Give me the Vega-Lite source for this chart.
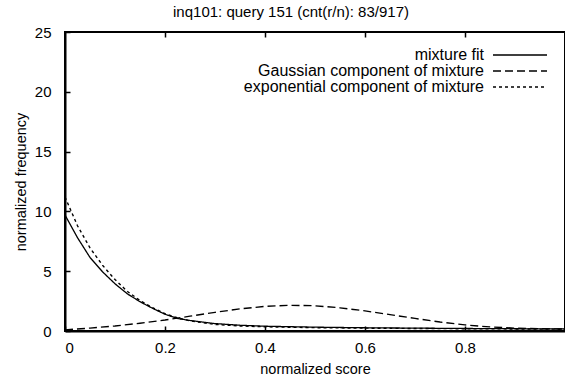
{
  "$schema": "https://vega.github.io/schema/vega-lite/v6.json",
  "autosize": "none",
  "width": 500,
  "height": 299,
  "padding": {"left": 65, "top": 32, "right": 0, "bottom": 51},
  "background": "white",
  "config": {
    "font": "Liberation Sans",
    "view": {"stroke": "black", "strokeWidth": 2},
    "axis": {"grid": false, "domainColor": "black", "domainWidth": 2, "tickColor": "black", "tickSize": -5, "tickWidth": 1.5, "labelColor": "black", "titleColor": "black", "labelFontSize": 15, "titleFontSize": 14.5, "titleFontWeight": "normal", "labelFont": "Liberation Sans", "titleFont": "Liberation Sans"}
  },
  "title": {"text": "inq101: query 151 (cnt(r/n): 83/917)", "fontSize": 15, "fontWeight": "normal", "font": "Liberation Sans", "color": "black", "anchor": "middle", "dx": -24, "offset": 5},
  "data": {"values": [
    {"x": 0, "y": 9.7, "s": "mixture fit"},
    {"x": 0.025, "y": 7.8, "s": "mixture fit"},
    {"x": 0.05, "y": 6.15, "s": "mixture fit"},
    {"x": 0.075, "y": 4.95, "s": "mixture fit"},
    {"x": 0.1, "y": 3.95, "s": "mixture fit"},
    {"x": 0.125, "y": 3.1, "s": "mixture fit"},
    {"x": 0.15, "y": 2.45, "s": "mixture fit"},
    {"x": 0.175, "y": 1.9, "s": "mixture fit"},
    {"x": 0.2, "y": 1.4, "s": "mixture fit"},
    {"x": 0.225, "y": 1.05, "s": "mixture fit"},
    {"x": 0.25, "y": 0.88, "s": "mixture fit"},
    {"x": 0.3, "y": 0.62, "s": "mixture fit"},
    {"x": 0.35, "y": 0.48, "s": "mixture fit"},
    {"x": 0.4, "y": 0.4, "s": "mixture fit"},
    {"x": 0.5, "y": 0.32, "s": "mixture fit"},
    {"x": 0.6, "y": 0.27, "s": "mixture fit"},
    {"x": 0.7, "y": 0.24, "s": "mixture fit"},
    {"x": 0.8, "y": 0.21, "s": "mixture fit"},
    {"x": 0.9, "y": 0.19, "s": "mixture fit"},
    {"x": 1.0, "y": 0.17, "s": "mixture fit"},
    {"x": 0, "y": 0.1, "s": "Gaussian component of mixture"},
    {"x": 0.05, "y": 0.24, "s": "Gaussian component of mixture"},
    {"x": 0.1, "y": 0.42, "s": "Gaussian component of mixture"},
    {"x": 0.15, "y": 0.65, "s": "Gaussian component of mixture"},
    {"x": 0.2, "y": 0.92, "s": "Gaussian component of mixture"},
    {"x": 0.25, "y": 1.24, "s": "Gaussian component of mixture"},
    {"x": 0.3, "y": 1.56, "s": "Gaussian component of mixture"},
    {"x": 0.35, "y": 1.85, "s": "Gaussian component of mixture"},
    {"x": 0.4, "y": 2.06, "s": "Gaussian component of mixture"},
    {"x": 0.45, "y": 2.15, "s": "Gaussian component of mixture"},
    {"x": 0.5, "y": 2.11, "s": "Gaussian component of mixture"},
    {"x": 0.55, "y": 1.94, "s": "Gaussian component of mixture"},
    {"x": 0.6, "y": 1.68, "s": "Gaussian component of mixture"},
    {"x": 0.65, "y": 1.37, "s": "Gaussian component of mixture"},
    {"x": 0.7, "y": 1.05, "s": "Gaussian component of mixture"},
    {"x": 0.75, "y": 0.75, "s": "Gaussian component of mixture"},
    {"x": 0.8, "y": 0.51, "s": "Gaussian component of mixture"},
    {"x": 0.85, "y": 0.34, "s": "Gaussian component of mixture"},
    {"x": 0.9, "y": 0.24, "s": "Gaussian component of mixture"},
    {"x": 0.95, "y": 0.19, "s": "Gaussian component of mixture"},
    {"x": 1.0, "y": 0.16, "s": "Gaussian component of mixture"},
    {"x": 0, "y": 11.2, "s": "exponential component of mixture"},
    {"x": 0.025, "y": 8.8, "s": "exponential component of mixture"},
    {"x": 0.05, "y": 6.95, "s": "exponential component of mixture"},
    {"x": 0.075, "y": 5.5, "s": "exponential component of mixture"},
    {"x": 0.1, "y": 4.3, "s": "exponential component of mixture"},
    {"x": 0.125, "y": 3.3, "s": "exponential component of mixture"},
    {"x": 0.15, "y": 2.55, "s": "exponential component of mixture"},
    {"x": 0.175, "y": 1.95, "s": "exponential component of mixture"},
    {"x": 0.2, "y": 1.45, "s": "exponential component of mixture"},
    {"x": 0.225, "y": 1.1, "s": "exponential component of mixture"},
    {"x": 0.25, "y": 0.85, "s": "exponential component of mixture"},
    {"x": 0.3, "y": 0.55, "s": "exponential component of mixture"},
    {"x": 0.35, "y": 0.42, "s": "exponential component of mixture"},
    {"x": 0.4, "y": 0.35, "s": "exponential component of mixture"},
    {"x": 0.5, "y": 0.28, "s": "exponential component of mixture"},
    {"x": 0.6, "y": 0.24, "s": "exponential component of mixture"},
    {"x": 0.7, "y": 0.21, "s": "exponential component of mixture"},
    {"x": 0.8, "y": 0.19, "s": "exponential component of mixture"},
    {"x": 0.9, "y": 0.17, "s": "exponential component of mixture"},
    {"x": 1.0, "y": 0.15, "s": "exponential component of mixture"}
  ]},
  "layer": [
    {
      "mark": {"type": "line", "color": "black", "clip": true},
      "encoding": {
        "x": {"field": "x", "type": "quantitative", "scale": {"domain": [0, 1], "nice": false},
          "axis": {"values": [0, 0.2, 0.4, 0.6, 0.8], "format": "~g", "title": "normalized score", "labelPadding": 14, "titlePadding": 7}},
        "y": {"field": "y", "type": "quantitative", "scale": {"domain": [0, 25], "nice": false},
          "axis": {"values": [0, 5, 10, 15, 20, 25], "format": "d", "title": "normalized frequency", "labelPadding": 19, "titlePadding": 6}},
        "strokeDash": {"field": "s", "type": "nominal",
          "scale": {"domain": ["mixture fit", "Gaussian component of mixture", "exponential component of mixture"], "range": [[1, 0], [8, 4], [3, 3]]},
          "legend": {"title": null, "orient": "top-right", "offset": 15, "padding": 0, "symbolType": "M-27,0H27", "symbolSize": 4, "symbolStrokeColor": "black", "symbolFillColor": "transparent", "symbolStrokeWidth": 1.5, "labelAlign": "right", "labelOffset": -44, "labelFontSize": 16, "labelFont": "Liberation Sans", "labelColor": "black", "labelLimit": 400, "rowPadding": -4}},
        "strokeWidth": {"field": "s", "type": "nominal",
          "scale": {"domain": ["mixture fit", "Gaussian component of mixture", "exponential component of mixture"], "range": [1.3, 1.4, 2.5]},
          "legend": null}
      }
    },
    {
      "mark": {"type": "point", "opacity": 0},
      "encoding": {
        "x": {"field": "x", "type": "quantitative", "scale": {"domain": [0, 1], "nice": false},
          "axis": {"orient": "top", "values": [0.2, 0.4, 0.6, 0.8], "labels": false, "domain": false, "title": null}},
        "y": {"field": "y", "type": "quantitative", "scale": {"domain": [0, 25], "nice": false}}
      }
    }
  ],
  "resolve": {"axis": {"x": "independent"}}
}
